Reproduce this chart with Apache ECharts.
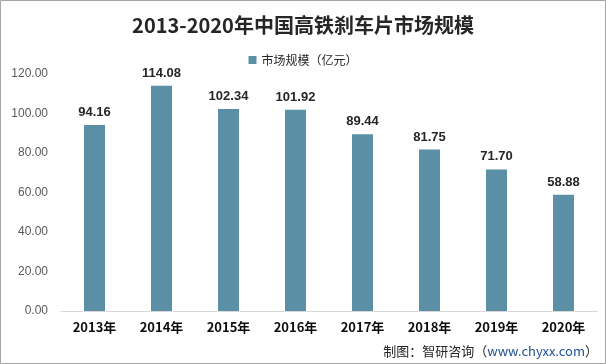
<!DOCTYPE html>
<html><head><meta charset="utf-8">
<script src="https://cdn.jsdelivr.net/npm/echarts@6/dist/echarts.min.js"></script>
<style>html,body{margin:0;padding:0;background:#fff}#c{width:606px;height:364px}</style>
</head><body><div id="c"></div>
<script>
const categories = ['2013年','2014年','2015年','2016年','2017年','2018年','2019年','2020年'];
const marketSize = [94.16,114.08,102.34,101.92,89.44,81.75,71.70,58.88];
const seriesName = '市场规模（亿元）';
const titleText = '2013-2020年中国高铁刹车片市场规模';
const chart = echarts.init(document.getElementById('c'));
chart.setOption({
  backgroundColor:'#fff',
  animation:false,
  title:{text:titleText,left:'center',top:10,textStyle:{fontFamily:'Noto Sans CJK SC',fontSize:20,fontWeight:'bold',color:'#262626'}},
  legend:{data:[seriesName],top:49,left:'center',itemWidth:8,itemHeight:8,icon:'rect',itemGap:5,textStyle:{fontFamily:'Noto Sans CJK SC',fontSize:12,color:'#262626'}},
  grid:{left:61,right:9,top:74,bottom:53},
  xAxis:{type:'category',data:categories,axisLine:{lineStyle:{color:'#d9d9d9'}},axisTick:{show:false},
    axisLabel:{fontFamily:'Noto Sans CJK SC',fontSize:13,fontWeight:'bold',color:'#0d0d0d',margin:10}},
  yAxis:{type:'value',min:0,max:120,interval:20,splitLine:{show:false},axisLine:{show:false},axisTick:{show:false},
    axisLabel:{formatter:v=>v.toFixed(2),fontFamily:'Liberation Sans',fontSize:12,color:'#595959',margin:13}},
  series:[{name:seriesName,type:'bar',data:marketSize,barWidth:21,itemStyle:{color:'#5B8FA6'},
    label:{show:true,position:'top',distance:6,formatter:p=>p.value.toFixed(2),fontFamily:'Liberation Sans',fontSize:13,fontWeight:'bold',color:'#262626'}}],
  graphic:[
    {type:'rect',shape:{x:0.5,y:0.5,width:605,height:363},style:{fill:'none',stroke:'#a6a6a6',lineWidth:1}},
    {type:'text',right:8,bottom:6,style:{rich:{a:{fontFamily:'Noto Sans CJK SC',fontSize:13,fill:'#262626'},b:{fontFamily:'Noto Sans CJK SC',fontSize:13,fill:'#1f4e9a'}},text:'{a|制图：智研咨询（}{b|www.chyxx.com}{a|）}'}}
  ]
});
</script></body></html>
